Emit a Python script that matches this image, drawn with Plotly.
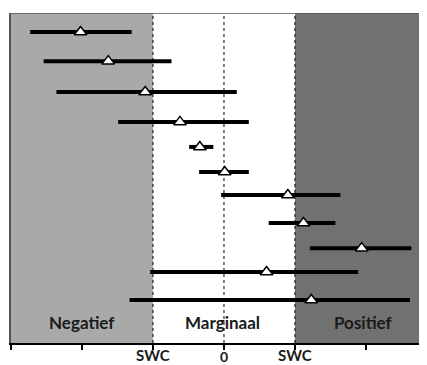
import plotly.graph_objects as go

# effect estimates in SWC units (SWC = 1)
effect = [-2.02, -1.63, -1.11, -0.62, -0.34, 0.01, 0.90, 1.12, 1.94, 0.60, 1.23]
ci_low = [-2.73, -2.54, -2.36, -1.49, -0.49, -0.35, -0.04, 0.63, 1.21, -1.04, -1.33]
ci_high = [-1.30, -0.74, 0.18, 0.35, -0.15, 0.35, 1.64, 1.57, 2.64, 1.89, 2.62]
row_pos = [11.31, 10.25, 9.13, 8.04, 7.13, 6.22, 5.38, 4.36, 3.45, 2.58, 1.56]

tick_vals = [-3, -2, -1, 0, 1, 2]
tick_text = ["", "", "SWC", "0", "SWC", ""]
zones = ["Negatief", "Marginaal", "Positief"]
zone_centers = [-2.0, -0.02, 1.97]

X_MIN, X_MAX = -3, 2.86
Y_MIN, Y_MAX = 0, 12

plus = [h - e for h, e in zip(ci_high, effect)]
minus = [e - l for e, l in zip(effect, ci_low)]

fig = go.Figure()
fig.add_trace(go.Scatter(
    x=effect, y=row_pos, mode="markers",
    marker=dict(symbol="triangle-up", size=11, color="white",
                line=dict(color="black", width=1.5)),
    error_x=dict(type="data", symmetric=False, array=plus, arrayminus=minus,
                 color="black", thickness=4, width=0),
    showlegend=False, hoverinfo="x",
))

shapes = [
    dict(type="rect", xref="x", yref="y", x0=X_MIN, x1=-1, y0=Y_MIN, y1=Y_MAX,
         fillcolor="#a9a9a9", line=dict(width=0), layer="below"),
    dict(type="rect", xref="x", yref="y", x0=1, x1=X_MAX, y0=Y_MIN, y1=Y_MAX,
         fillcolor="#717171", line=dict(width=0), layer="below"),
    dict(type="line", xref="x", yref="y", x0=X_MIN, x1=X_MAX, y0=Y_MAX, y1=Y_MAX,
         line=dict(color="#555555", width=1.5)),
]
for xv in [-1, 0, 1]:
    shapes.append(dict(type="line", xref="x", yref="y", x0=xv, x1=xv, y0=Y_MIN, y1=Y_MAX,
                       line=dict(color="black", width=1, dash="dot"), layer="below"))

font_b = "Lato, 'Liberation Sans', Arial, sans-serif"
annotations = []
for name, xc in zip(zones, zone_centers):
    annotations.append(dict(x=xc, y=0.73, xref="x", yref="y", text="<b>%s</b>" % name,
                            showarrow=False, font=dict(family=font_b, size=17, color="#1a1a1a")))
for xv, lab in zip(tick_vals, tick_text):
    if not lab:
        continue
    is_zero = lab == "0"
    annotations.append(dict(x=xv, y=-0.040 if is_zero else -0.035, xref="x", yref="paper",
                            text="<b>%s</b>" % lab, showarrow=False, yanchor="middle",
                            borderpad=0,
                            font=dict(family=font_b, size=14 if is_zero else 15, color="#1a1a1a")))

# page body has an 8px margin: compensate so plot area lands at x 11..427, y 13..343
fig.update_layout(
    width=419, height=357,
    margin=dict(l=3, r=0, t=5, b=22),
    paper_bgcolor="white", plot_bgcolor="white",
    shapes=shapes, annotations=annotations,
    xaxis=dict(range=[X_MIN, X_MAX], tickvals=tick_vals, ticktext=[""] * len(tick_vals),
               showgrid=False, zeroline=False, showline=True, linecolor="black", linewidth=1.5,
               ticks="outside", ticklen=5, tickcolor="black", tickwidth=1.5, fixedrange=True),
    yaxis=dict(range=[Y_MIN, Y_MAX], showticklabels=False, showgrid=False, zeroline=False,
               showline=True, linecolor="#555555", linewidth=1.5, fixedrange=True),
)

fig.write_html("out.html")
